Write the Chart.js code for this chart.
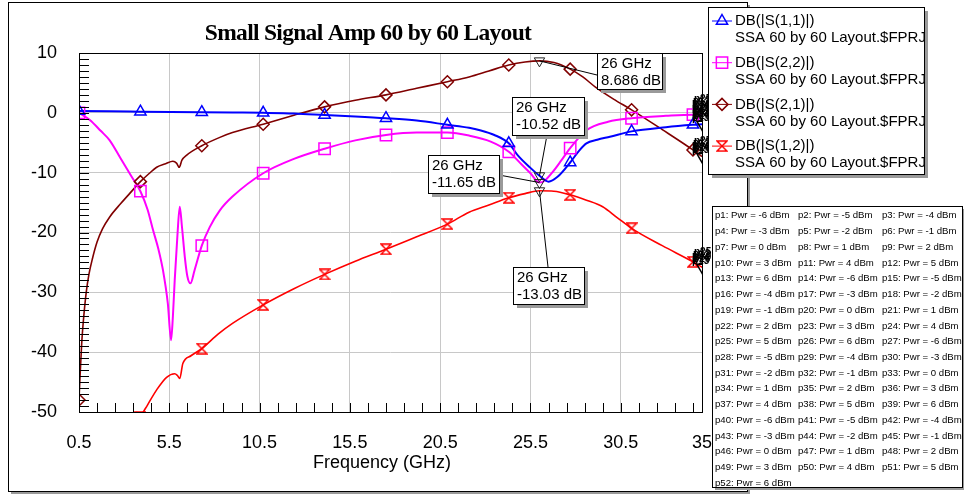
<!DOCTYPE html>
<html>
<head>
<meta charset="utf-8">
<title>Small Signal Amp 60 by 60 Layout</title>
<script src="https://cdn.jsdelivr.net/npm/chart.js@4.4.1/dist/chart.umd.min.js"></script>
<style>
	html, body { margin: 0; padding: 0; background: #fff; }
	#wrap { width: 964px; height: 494px; }
</style>
</head>
<body>
<div id="wrap"><canvas id="ssa" width="964" height="494"></canvas></div>
<script>
// sweep 0.5 - 35 GHz, values in dB
var freqS11 = [0.5, 2.2, 3.9, 5.6, 7.3, 9.0, 10.7, 12.4, 14.1, 15.8, 17.5, 19.2, 20.9, 22.1, 22.7, 23.5, 24.3, 24.8, 25.5, 26, 26.5, 27.0, 27.7, 28.2, 28.6, 29.2, 29.9, 31.1, 33.0, 34.5, 35];
var dbS11 = [0.3, 0.25, 0.2, 0.15, 0.1, 0.05, 0.0, -0.1, -0.35, -0.6, -0.9, -1.3, -2.0, -2.5, -2.9, -3.7, -5.1, -7.1, -9.2, -10.52, -11.5, -10.7, -8.3, -6.3, -5.1, -4.5, -4.0, -3.1, -2.4, -2.0, -1.9];

var freqS22 = [0.5, 1.1, 1.7, 2.2, 2.8, 3.4, 3.9, 4.3, 4.6, 4.9, 5.15, 5.42, 5.6, 5.7, 5.8, 5.95, 6.08, 6.2, 6.36, 6.5, 6.67, 6.9, 7.3, 7.74, 8.3, 9.0, 10.7, 12.4, 14.1, 15.8, 17.5, 19.2, 20.9, 22.1, 23.3, 24.3, 25.0, 25.5, 26, 26.3, 26.7, 27.2, 27.7, 28.6, 29.8, 31.1, 33.0, 34.5, 35];
var dbS22 = [0.0, -1.2, -3.0, -4.6, -7.6, -10.6, -13.1, -16.2, -19.6, -22.8, -26.3, -31.9, -38.0, -34.0, -28.0, -20.5, -15.7, -19.0, -24.1, -27.3, -28.5, -26.3, -22.2, -19.1, -16.3, -14.0, -10.1, -7.7, -6.0, -4.6, -3.7, -3.3, -3.3, -3.8, -4.8, -6.5, -8.6, -10.1, -11.65, -11.3, -10.0, -8.0, -5.9, -2.9, -1.5, -0.9, -0.5, -0.3, -0.3];

var freqS21 = [0.5, 0.55, 0.65, 0.75, 0.9, 1.05, 1.25, 1.5, 1.8, 2.2, 2.8, 3.3, 3.9, 4.4, 4.8, 5.3, 5.7, 5.9, 6.05, 6.2, 6.45, 7.3, 8.3, 9.0, 10.7, 12.4, 14.1, 15.8, 17.5, 19.2, 20.9, 22.1, 23.2, 24.3, 25.2, 26, 26.8, 27.7, 28.4, 29.1, 30.1, 31.1, 32.8, 34.5, 35];
var dbS21 = [-48.0, -44.5, -38.5, -34.5, -30.0, -27.0, -24.3, -21.6, -19.4, -17.4, -15.2, -13.5, -11.5, -10.1, -9.1, -8.5, -8.1, -8.4, -9.1, -7.9, -7.1, -5.5, -4.1, -3.3, -1.9, -0.4, 1.0, 2.1, 3.0, 4.1, 5.2, 6.0, 7.0, 8.0, 8.5, 8.686, 8.4, 7.3, 6.0, 4.3, 2.3, 0.5, -2.8, -6.2, -7.3];

var freqS12 = [3.5, 3.9, 4.3, 4.8, 5.35, 5.8, 5.95, 6.08, 6.25, 6.7, 7.3, 8.2, 9.0, 10.7, 12.4, 14.1, 15.8, 17.5, 19.2, 20.9, 22.1, 23.2, 24.3, 25.2, 26, 26.8, 27.7, 28.6, 29.5, 30.3, 31.1, 32.8, 34.5, 35];
var dbS12 = [-53.0, -50.8, -48.8, -46.3, -44.2, -43.6, -43.9, -44.4, -41.9, -40.6, -39.4, -37.0, -35.2, -32.1, -29.4, -27.0, -24.8, -22.8, -20.7, -18.6, -16.6, -15.4, -14.2, -13.5, -13.03, -13.1, -13.7, -14.6, -15.7, -17.5, -19.3, -22.2, -24.9, -25.8];

// symbols are placed every 3.4 GHz
var markerFreqs = [0.5, 3.9, 7.3, 10.7, 14.1, 17.5, 20.9, 24.3, 27.7, 31.1, 34.5];
var xTicks = [0.5, 5.5, 10.5, 15.5, 20.5, 25.5, 30.5, 35];

// readouts at 26 GHz: S11, S22, S21, S12
var probeFreq = 26;
var probeDb = [-10.52, -11.65, 8.686, -13.03];

var traceNames = ['DB(|S(1,1)|)', 'DB(|S(2,2)|)', 'DB(|S(2,1)|)', 'DB(|S(1,2)|)'];
var projName = 'SSA 60 by 60 Layout.$FPRJ';
var pwrSteps = [-6, -5, -4, -3, -2, -1, 0, 1, 2, 3, 4, 5, 6];
var sweepTags = ['p13', 'p26', 'p39', 'p52', 'p12', 'p25'];

Chart.defaults.font.family = '"Liberation Sans", Arial, sans-serif';

function hourglass(color, size) {
	var c = document.createElement('canvas');
	c.width = size; c.height = size;
	var g = c.getContext('2d');
	g.strokeStyle = color;
	g.lineWidth = 1.5;
	g.beginPath();
	g.moveTo(1, 1); g.lineTo(size - 1, 1);
	g.lineTo(1, size - 1); g.lineTo(size - 1, size - 1);
	g.closePath();
	g.stroke();
	return c;
}

function toPoints(fs, vs) {
	return fs.map(function (f, i) { return { x: f, y: vs[i] }; });
}

var traces = [
	{ f: freqS11, v: dbS11, color: '#0000ff', style: 'triangle', r: 6.5, width: 2 },
	{ f: freqS22, v: dbS22, color: '#ff00ff', style: 'rect', r: 8, width: 2 },
	{ f: freqS21, v: dbS21, color: '#800000', style: 'rectRot', r: 6, width: 1.6 },
	{ f: freqS12, v: dbS12, color: '#ff0000', style: hourglass('#ff0000', 12), r: 6, width: 1.6 }
];

var datasets = [];
// readout triangles and end-of-sweep triangles
datasets.push({
	data: probeDb.map(function (v) { return { x: probeFreq, y: v }; }),
	showLine: false, pointStyle: 'triangle', rotation: 180, pointRadius: 6,
	borderColor: '#222', backgroundColor: 'rgba(0,0,0,0)', pointBorderWidth: 1
});
datasets.push({
	data: traces.map(function (t) { return { x: t.f[t.f.length - 1], y: t.v[t.v.length - 1] }; }),
	showLine: false, pointStyle: 'triangle', rotation: 180, pointRadius: 6,
	borderColor: '#000', backgroundColor: 'rgba(0,0,0,0)', pointBorderWidth: 1.5
});
traces.forEach(function (t) {
	datasets.push({
		data: toPoints(t.f, t.v).filter(function (p) { return markerFreqs.indexOf(p.x) >= 0; }),
		showLine: false, pointStyle: t.style, pointRadius: t.r,
		borderColor: t.color, backgroundColor: 'rgba(0,0,0,0)', pointBorderWidth: 1.5
	});
});
traces.forEach(function (t) {
	datasets.push({
		data: toPoints(t.f, t.v),
		borderColor: t.color, borderWidth: t.width, pointRadius: 0,
		cubicInterpolationMode: 'monotone', fill: false
	});
});

function shadowBox(ctx, x, y, w, h, off) {
	ctx.fillStyle = '#9a9a9a';
	ctx.fillRect(x + off, y + off, w, h);
	ctx.fillStyle = '#fff';
	ctx.fillRect(x, y, w, h);
	ctx.strokeStyle = '#000';
	ctx.lineWidth = 1;
	ctx.strokeRect(x + 0.5, y + 0.5, w, h);
}

var decor = {
	id: 'decor',
	beforeDraw: function (chart) {
		var ctx = chart.ctx;
		ctx.save();
		ctx.fillStyle = '#fff';
		ctx.fillRect(0, 0, chart.width, chart.height);
		shadowBox(ctx, 8, 2, 739, 489, 3);
		ctx.restore();
	},
	afterDatasetsDraw: function (chart) {
		var ctx = chart.ctx, ca = chart.chartArea;
		var xs = chart.scales.x, ys = chart.scales.y;
		ctx.save();

		// small ticks inside the frame
		ctx.strokeStyle = '#000';
		ctx.lineWidth = 1;
		ctx.beginPath();
		for (var d = -50; d <= 10; d++) {
			var ty = Math.round(ys.getPixelForValue(d)) + 0.5;
			ctx.moveTo(ca.left, ty); ctx.lineTo(ca.left + 10, ty);
		}
		for (var f = 0.5; f < 35; f += 1) {
			var tx = Math.round(xs.getPixelForValue(f)) + 0.5;
			ctx.moveTo(tx, ca.bottom); ctx.lineTo(tx, ca.bottom - 9);
		}
		ctx.stroke();
		ctx.strokeRect(Math.round(ca.left) + 0.5, Math.round(ca.top) + 0.5,
			Math.round(ca.right - ca.left), Math.round(ca.bottom - ca.top));

		// sweep tags piled at the end of each trace
		ctx.fillStyle = '#000';
		ctx.font = 'bold 10px "Liberation Sans", Arial, sans-serif';
		ctx.textAlign = 'left';
		ctx.textBaseline = 'bottom';
		traces.forEach(function (t) {
			var px = xs.getPixelForValue(t.f[t.f.length - 1]);
			var py = ys.getPixelForValue(t.v[t.v.length - 1]);
			sweepTags.forEach(function (s, k) {
				ctx.fillText(s, px - 10 + (k % 3), py - 1 - k * 1.8);
			});
		});

		// 26 GHz readout boxes
		var boxes = [
			{ x: 512, y: 97, w: 72, h: 38, ax: 547, ay: 135 },
			{ x: 428, y: 155, w: 71, h: 38, ax: 499, ay: 175 },
			{ x: 597, y: 53, w: 65, h: 36, ax: 597, ay: 75 },
			{ x: 513, y: 267, w: 71, h: 37, ax: 548, ay: 267 }
		];
		ctx.font = '15px "Liberation Sans", Arial, sans-serif';
		ctx.textBaseline = 'middle';
		boxes.forEach(function (b, i) {
			var mx = xs.getPixelForValue(probeFreq), my = ys.getPixelForValue(probeDb[i]);
			ctx.strokeStyle = '#000';
			ctx.lineWidth = 1;
			ctx.beginPath();
			ctx.moveTo(b.ax, b.ay);
			ctx.lineTo(mx, my);
			ctx.stroke();
			shadowBox(ctx, b.x, b.y, b.w, b.h, 4);
			ctx.fillStyle = '#000';
			ctx.fillText(probeFreq + ' GHz', b.x + 4, b.y + 11);
			ctx.fillText(probeDb[i] + ' dB', b.x + 4, b.y + 28);
		});
		ctx.restore();
	},
	afterDraw: function (chart) {
		var ctx = chart.ctx;
		ctx.save();
		ctx.fillStyle = '#000';
		ctx.textAlign = 'center';
		ctx.textBaseline = 'middle';
		ctx.font = 'bold 23.5px "Liberation Serif", "Times New Roman", serif';
		ctx.letterSpacing = '-0.7px';
		ctx.fillText('Small Signal Amp 60 by 60 Layout', 368, 34);
		ctx.letterSpacing = '0px';
		ctx.font = '18px "Liberation Sans", Arial, sans-serif';
		ctx.fillText('Frequency (GHz)', 382, 463);

		// legend
		shadowBox(ctx, 708, 7, 216, 167, 4);
		ctx.textAlign = 'left';
		ctx.font = '15px "Liberation Sans", Arial, sans-serif';
		traces.forEach(function (t, i) {
			var ly = 21 + i * 41.7;
			ctx.strokeStyle = t.color;
			ctx.lineWidth = 1;
			ctx.beginPath();
			ctx.moveTo(712, ly); ctx.lineTo(732, ly);
			ctx.stroke();
			ctx.lineWidth = 1.5;
			ctx.fillStyle = 'rgba(0,0,0,0)';
			Chart.helpers.drawPoint(ctx, { pointStyle: t.style, radius: t.r, rotation: 0, borderWidth: 1.5 }, 722, ly);
			ctx.fillStyle = '#000';
			ctx.fillText(traceNames[i], 735, ly);
			ctx.fillText(projName, 735, ly + 17);
		});

		// power sweep table
		shadowBox(ctx, 712, 206, 250, 281, 3);
		ctx.fillStyle = '#000';
		ctx.font = '9.6px "Liberation Sans", Arial, sans-serif';
		var cols = [715, 798, 882];
		for (var n = 0; n < 52; n++) {
			var cx = cols[n % 3];
			var cy = 215.7 + Math.floor(n / 3) * 15.74;
			ctx.fillText('p' + (n + 1) + ': Pwr = ' + pwrSteps[n % pwrSteps.length] + ' dBm', cx, cy);
		}
		ctx.restore();
	}
};

new Chart(document.getElementById('ssa'), {
	type: 'line',
	data: { datasets: datasets },
	options: {
		responsive: false,
		animation: false,
		events: [],
		layout: { padding: { left: 0, top: 53, right: 262, bottom: 0 } },
		plugins: { legend: { display: false }, tooltip: { enabled: false }, title: { display: false } },
		scales: {
			x: {
				type: 'linear', min: 0.5, max: 35,
				afterBuildTicks: function (scale) {
					scale.ticks = xTicks.map(function (v) { return { value: v }; });
				},
				afterFit: function (scale) { scale.height = 82; },
				grid: { color: '#c8c8c8', drawTicks: false },
				border: { display: false },
				ticks: {
					padding: 20, color: '#000', maxRotation: 0, autoSkip: false,
					font: { size: 18 },
					callback: function (v) { return String(v); }
				}
			},
			y: {
				min: -50, max: 10,
				afterFit: function (scale) { scale.width = 79; },
				grid: { color: '#c8c8c8', drawTicks: false },
				border: { display: false },
				ticks: { stepSize: 10, padding: 22, color: '#000', font: { size: 18 } }
			}
		}
	},
	plugins: [decor]
});
</script>
</body>
</html>
